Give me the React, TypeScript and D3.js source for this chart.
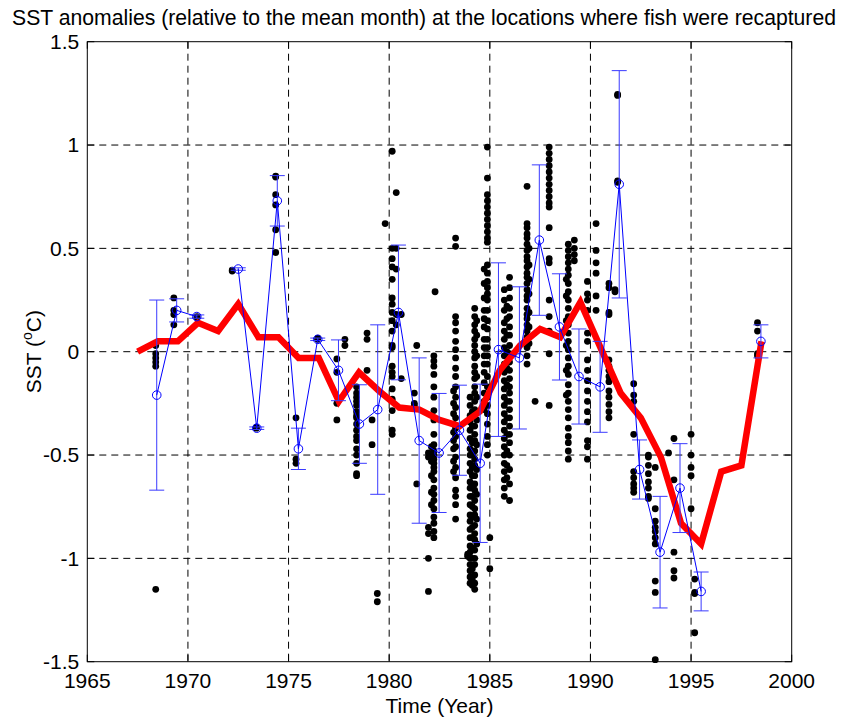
import React, { useEffect, useRef } from "react";
import * as d3 from "d3";

const W = 848;
const H = 720;
const margin = { top: 41.7, right: 56.3, bottom: 58.3, left: 87.3 };

const xTicks = [1965, 1970, 1975, 1980, 1985, 1990, 1995, 2000];
const yTicks = [-1.5, -1, -0.5, 0, 0.5, 1, 1.5];
const yTickLabels = ["-1.5", "-1", "-0.5", "0", "0.5", "1", "1.5"];

// yearly mean (thick red line)
const annualYears = [
  1967.5, 1968.5, 1969.5, 1970.5, 1971.5, 1972.5, 1973.5, 1974.5, 1975.5, 1976.5,
  1977.5, 1978.5, 1979.5, 1980.5, 1981.5, 1982.5, 1983.5, 1984.5, 1985.5, 1986.5,
  1987.5, 1988.5, 1989.5, 1990.5, 1991.5, 1992.5, 1993.5, 1994.5, 1995.5, 1996.5,
  1997.5, 1998.5,
];
const annualSst = [
  0.0, 0.05, 0.05, 0.14, 0.1, 0.23, 0.07, 0.07, -0.03, -0.03,
  -0.24, -0.1, -0.19, -0.27, -0.28, -0.33, -0.36, -0.29, -0.09, 0.03,
  0.11, 0.07, 0.24, 0.02, -0.2, -0.32, -0.51, -0.83, -0.93, -0.58,
  -0.55, 0.05,
];

// recapture-location mean with error bars (blue)
const meanYears = [
  1968.45, 1969.44, 1970.44, 1971.5, 1972.5, 1973.42, 1974.44, 1975.49, 1976.45, 1977.48,
  1978.52, 1979.43, 1980.46, 1981.49, 1982.48, 1983.49, 1984.52, 1985.43, 1986.47, 1987.46,
  1988.46, 1989.43, 1990.48, 1991.43, 1992.44, 1993.46, 1994.45, 1995.5, 1996.5, 1997.5,
  1998.47,
];
const meanSst: (number | null)[] = [
  -0.21, 0.2, 0.17, null, 0.4, -0.37, 0.73, -0.47, 0.06, -0.09,
  -0.35, -0.28, 0.19, -0.43, -0.49, -0.38, -0.54, 0.01, -0.03, 0.54,
  0.12, -0.12, -0.17, 0.81, -0.57, -0.97, -0.66, -1.16, null, null,
  0.05,
];
const meanErr: (number | null)[] = [
  0.46, 0.056, 0.008, null, 0.006, 0.006, 0.122, 0.1, 0.006, 0.147,
  0.19, 0.41, 0.326, 0.4, 0.288, 0.218, 0.383, 0.42, 0.344, 0.364,
  0.257, 0.23, 0.22, 0.55, 0.143, 0.27, 0.215, 0.094, null, null,
  0.08,
];

// individual recaptures: [year, SST anomalies...]
const dotColumns: [number, number[]][] = [
  [1968.4, [0.03, -0.01, -0.03, -0.05, -0.07, -1.15]],
  [1969.3, [0.26, 0.2, 0.18, 0.13]],
  [1970.45, [0.17, 0.165]],
  [1972.2, [0.395, 0.39]],
  [1973.4, [-0.365, -0.37]],
  [1974.36, [0.85, 0.845, 0.76, 0.71, 0.59, 0.48]],
  [1975.37, [-0.32, -0.52, -0.54]],
  [1976.45, [0.065, 0.06]],
  [1977.4, [-0.035, -0.1, -0.25, -0.33]],
  [1977.8, [0.06, 0.03]],
  [1978.38, [-0.17, -0.2, -0.22, -0.24, -0.26, -0.29, -0.31, -0.32, -0.35, -0.38, -0.41, -0.43, -0.47, -0.5, -0.54, -0.59, -0.6]],
  [1978.9, [0.09, 0.06, -0.09]],
  [1979.15, [-0.33, -0.45]],
  [1979.41, [-1.17, -1.21]],
  [1979.8, [0.62]],
  [1980.15, [0.97, 0.5, 0.45, 0.41, 0.35, 0.26, 0.23, 0.19, 0.15, 0.1, 0.03, 0.02, -0.07, -0.1, -0.12, -0.18, -0.23, -0.285, -0.38, -0.4]],
  [1980.35, [0.77, 0.5, 0.4, 0.18, 0.13]],
  [1980.6, [0.18, -0.13]],
  [1981.25, [-0.2, -0.25, -0.26]],
  [1981.37, [0.03, -0.64]],
  [1981.95, [-0.49, -0.51, -0.85, -0.88, -1.0, -1.16]],
  [1982.28, [0.29]],
  [1982.22, [-0.02, -0.045, -0.07, -0.11, -0.17, -0.22, -0.285, -0.33, -0.4, -0.45, -0.48, -0.5, -0.52, -0.54, -0.56, -0.58, -0.62, -0.66, -0.69, -0.72, -0.76, -0.8, -0.83, -0.87, -0.9]],
  [1982.1, [-0.46, -0.53, -0.6, -0.68, -0.74]],
  [1983.3, [0.55, 0.51, 0.17, 0.14, 0.1, 0.05, 0.01, -0.03, -0.08, -0.12, -0.17, -0.22, -0.27, -0.32, -0.37, -0.41, -0.46, -0.51, -0.56, -0.61, -0.67, -0.7, -0.74, -0.81]],
  [1983.2, [-0.19, -0.25, -0.3, -0.35, -0.39, -0.43, -0.47, -0.53, -0.58]],
  [1983.9, [-0.99, -0.98]],
  [1984.25, [0.21, 0.17, 0.13, 0.1, 0.06, 0.03, 0.0, -0.03, -0.07, -0.1, -0.13, -0.17, -0.2, -0.24, -0.28, -0.31, -0.36, -0.4, -0.43, -0.48, -0.52, -0.55, -0.6, -0.64, -0.67, -0.72, -0.76, -0.79, -0.84, -0.88, -0.91, -0.96, -1.0, -1.03, -1.08, -1.12, -1.15]],
  [1984.02, [-0.22, -0.26, -0.31, -0.34, -0.38, -0.42, -0.47, -0.5, -0.54, -0.58, -0.63, -0.66, -0.7, -0.74, -0.79, -0.82, -0.86, -0.9, -0.94, -0.97, -1.0, -1.03, -1.06, -1.09, -1.12]],
  [1984.13, [-0.29, -0.36, -0.44, -0.5, -0.56, -0.6, -0.65, -0.7, -0.75, -0.8, -0.85, -0.9, -0.95, -1.0, -1.05, -1.1, -1.13]],
  [1984.35, [0.15, 0.08, -0.02, -0.12, -0.22, -0.33, -0.45, -0.57, -0.69, -0.81, -0.93]],
  [1984.88, [0.99, 0.84, 0.76, 0.73, 0.7, 0.67, 0.64, 0.61, 0.58, 0.55, 0.53, 0.42, 0.38, 0.34, 0.31, 0.28, 0.25, 0.2, 0.15, 0.11, 0.06, 0.02, -0.02, -0.06, -0.12, -0.17, -0.22, -0.26, -0.3, -0.35, -0.41, -0.45, -0.5]],
  [1984.72, [0.4, 0.33, 0.26, 0.2, 0.16, 0.12, 0.06, 0.02, -0.02, -0.06, -0.1, -0.15, -0.2, -0.24, -0.28]],
  [1985.0, [-0.9, -1.05]],
  [1985.72, [0.3, 0.25, 0.2, 0.14, 0.1, 0.06, 0.02, -0.02, -0.06, -0.1, -0.14, -0.18, -0.22, -0.26, -0.3, -0.34, -0.38, -0.42, -0.46, -0.5, -0.54, -0.58, -0.62, -0.66, -0.7]],
  [1985.85, [0.22, 0.16, 0.08, 0.0, -0.08, -0.16, -0.24, -0.32, -0.4, -0.48, -0.55, -0.61]],
  [1985.98, [0.36, 0.31, 0.26, 0.21, 0.17, 0.12, 0.08, 0.03, -0.01, -0.05, -0.09, -0.13, -0.17, -0.2, -0.24, -0.28, -0.32, -0.36, -0.4, -0.44, -0.5, -0.57, -0.64, -0.72]],
  [1986.85, [0.8, 0.62, 0.6, 0.57, 0.55, 0.52, 0.49, 0.46, 0.44, 0.41, 0.38, 0.36, 0.33, 0.3, 0.27, 0.25, 0.21, 0.18, 0.16, 0.13, 0.1, 0.07, 0.05, 0.02, -0.02, -0.06]],
  [1986.95, [0.5, 0.42, 0.35, 0.28, 0.19, 0.12, 0.04]],
  [1987.25, [-0.24]],
  [1987.95, [0.99, 0.96, 0.93, 0.9, 0.87, 0.84, 0.81, 0.78, 0.75, 0.72, 0.7, 0.6, 0.45, 0.43, 0.25, 0.17, 0.1, -0.01, -0.26]],
  [1988.9, [0.52, 0.49, 0.46, 0.43, 0.4, 0.37, 0.33, 0.29, 0.25, 0.21, 0.17, 0.13, 0.09, 0.05, 0.01, -0.03, -0.07, -0.11, -0.16, -0.2, -0.24, -0.28, -0.32, -0.37, -0.41, -0.44, -0.48, -0.52]],
  [1988.8, [0.35, 0.27, 0.15, 0.03, -0.09, -0.21]],
  [1989.2, [0.54, 0.5, 0.47, 0.44]],
  [1989.85, [0.34, 0.28, 0.25, 0.2, 0.09, 0.05, -0.04, -0.09, -0.14, -0.19, -0.24, -0.29, -0.34, -0.43, -0.46, -0.52]],
  [1990.28, [0.62, 0.49, 0.43, 0.38, 0.27, 0.2]],
  [1990.92, [0.33, 0.31, 0.19, 0.18, -0.04, -0.07, -0.09, -0.12, -0.145, -0.19, -0.22, -0.255, -0.29, -0.32]],
  [1991.22, [0.3, 0.29]],
  [1991.35, [1.245, 1.24, 0.827, 0.82]],
  [1992.15, [-0.155, -0.21, -0.24, -0.4, -0.58, -0.61, -0.64, -0.66, -0.68]],
  [1992.88, [-0.5, -0.51, -0.55, -0.59, -0.63, -0.66, -0.7, -0.71]],
  [1993.22, [-0.56, -0.76, -0.82, -0.85, -0.87, -0.9, -0.93, -1.11, -1.165, -1.49]],
  [1993.88, [-0.49]],
  [1994.15, [-0.42, -0.62, -0.97, -1.06, -1.095]],
  [1995.0, [-0.4, -0.5, -0.56, -0.6, -0.76]],
  [1995.18, [-1.1, -1.165, -1.17, -1.36]],
  [1998.3, [0.14, 0.1, -0.01, -0.02]],
];

const font = "'Liberation Sans', Arial, Helvetica, sans-serif";

export default function App() {
  const ref = useRef<SVGSVGElement>(null);

  useEffect(() => {
    const svg = d3.select(ref.current);
    svg.selectAll("*").remove();

    const x = d3.scaleLinear().domain([1965, 2000]).range([margin.left, W - margin.right]);
    const y = d3.scaleLinear().domain([-1.5, 1.5]).range([H - margin.bottom, margin.top]);
    const x0 = x.range()[0], x1 = x.range()[1];
    const y0 = y.range()[0], y1 = y.range()[1];

    svg.append("rect").attr("width", W).attr("height", H).attr("fill", "#fff");

    // dashed grid
    const grid = svg.append("g").attr("stroke", "#000").attr("stroke-width", 1).attr("stroke-dasharray", "7,5");
    xTicks.slice(1, -1).forEach((t) => {
      grid.append("line").attr("x1", x(t)).attr("x2", x(t)).attr("y1", y1).attr("y2", y0);
    });
    yTicks.slice(1, -1).forEach((t) => {
      grid.append("line").attr("x1", x0).attr("x2", x1).attr("y1", y(t)).attr("y2", y(t));
    });

    // scatter of recaptures
    const dots = dotColumns.flatMap(([yr, vals]) => vals.map((v) => ({ yr, v })));
    svg.append("g")
      .selectAll("circle")
      .data(dots)
      .join("circle")
      .attr("cx", (d) => x(d.yr))
      .attr("cy", (d) => y(d.v))
      .attr("r", 3.4)
      .attr("fill", "#000");

    // annual red line
    const annual = annualYears.map((yr, i) => ({ yr, v: annualSst[i] }));
    svg.append("path")
      .datum(annual)
      .attr("fill", "none")
      .attr("stroke", "#ff0000")
      .attr("stroke-width", 6.5)
      .attr("d", d3.line<{ yr: number; v: number }>().x((d) => x(d.yr)).y((d) => y(d.v)));

    // blue means with error bars
    const means = meanYears.map((yr, i) => ({ yr, v: meanSst[i], e: meanErr[i] }));
    const valid = means.filter((d) => d.v != null) as { yr: number; v: number; e: number }[];
    const eb = svg.append("g").attr("stroke", "#3a3aff").attr("stroke-width", 1).attr("fill", "none");
    valid.forEach((d) => {
      const top = y(d.v + d.e), bot = y(d.v - d.e), cx = x(d.yr);
      eb.append("line").attr("x1", cx).attr("x2", cx).attr("y1", top).attr("y2", bot);
      eb.append("line").attr("x1", cx - 7.5).attr("x2", cx + 7.5).attr("y1", top).attr("y2", top);
      eb.append("line").attr("x1", cx - 7.5).attr("x2", cx + 7.5).attr("y1", bot).attr("y2", bot);
    });
    svg.append("path")
      .datum(means)
      .attr("fill", "none")
      .attr("stroke", "#0000ff")
      .attr("stroke-width", 1)
      .attr(
        "d",
        d3.line<{ yr: number; v: number | null }>()
          .defined((d) => d.v != null)
          .x((d) => x(d.yr))
          .y((d) => y(d.v as number))
      );
    svg.append("g")
      .selectAll("circle")
      .data(valid)
      .join("circle")
      .attr("cx", (d) => x(d.yr))
      .attr("cy", (d) => y(d.v))
      .attr("r", 4.3)
      .attr("fill", "none")
      .attr("stroke", "#0000ff")
      .attr("stroke-width", 1);

    // axes box and inward ticks
    const ax = svg.append("g").attr("stroke", "#000").attr("stroke-width", 1);
    ax.append("rect").attr("x", x0).attr("y", y1).attr("width", x1 - x0).attr("height", y0 - y1).attr("fill", "none");
    xTicks.forEach((t) => {
      ax.append("line").attr("x1", x(t)).attr("x2", x(t)).attr("y1", y0).attr("y2", y0 - 7);
      ax.append("line").attr("x1", x(t)).attr("x2", x(t)).attr("y1", y1).attr("y2", y1 + 7);
    });
    yTicks.forEach((t) => {
      ax.append("line").attr("x1", x0).attr("x2", x0 + 7).attr("y1", y(t)).attr("y2", y(t));
      ax.append("line").attr("x1", x1).attr("x2", x1 - 7).attr("y1", y(t)).attr("y2", y(t));
    });

    const txt = svg.append("g").attr("font-family", font).attr("font-size", 21).attr("fill", "#000");
    xTicks.forEach((t) => {
      txt.append("text").attr("x", x(t)).attr("y", y0 + 26).attr("text-anchor", "middle").text(String(t));
    });
    yTicks.forEach((t, i) => {
      txt.append("text").attr("x", x0 - 8).attr("y", y(t)).attr("dy", "0.34em").attr("text-anchor", "end").text(yTickLabels[i]);
    });

    txt.append("text").attr("x", (x0 + x1) / 2).attr("y", 713).attr("text-anchor", "middle").text("Time (Year)");
    txt.append("text").attr("x", W / 2).attr("y", 25).attr("text-anchor", "middle").attr("font-size", 21.2)
      .text("SST anomalies (relative to the mean month) at the locations where fish were recaptured");

    const yl = txt.append("text").attr("transform", `translate(41, ${(y0 + y1) / 2}) rotate(-90)`).attr("text-anchor", "middle");
    yl.append("tspan").text("SST (");
    yl.append("tspan").attr("font-size", 14).attr("dy", -9).text("o");
    yl.append("tspan").attr("dy", 9).text("C)");
  }, []);

  return <svg ref={ref} width={W} height={H} style={{ position: "absolute", left: 0, top: 0 }} />;
}
